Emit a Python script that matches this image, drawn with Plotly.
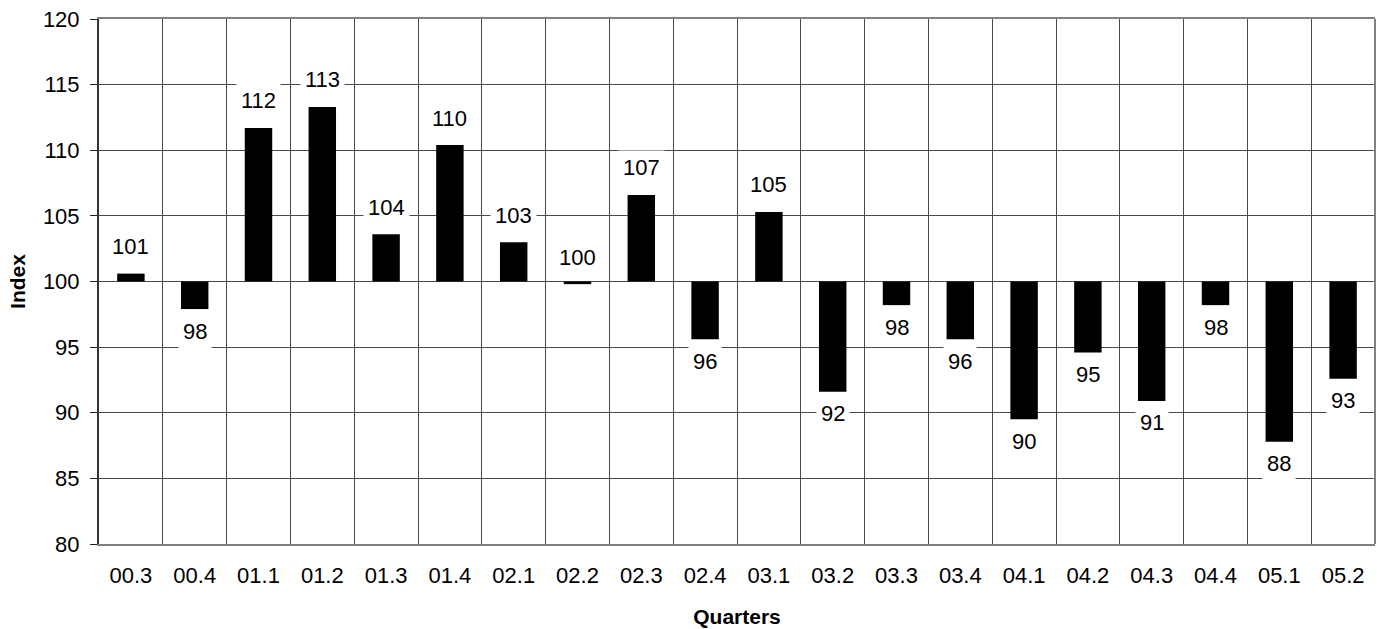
import math
import plotly.graph_objects as go

# Quarterly index values (base = 100)
quarters = ["00.3", "00.4", "01.1", "01.2", "01.3", "01.4", "02.1", "02.2", "02.3", "02.4",
            "03.1", "03.2", "03.3", "03.4", "04.1", "04.2", "04.3", "04.4", "05.1", "05.2"]
index_values = [100.6, 97.9, 111.7, 113.3, 103.6, 110.4, 103.0, 99.8, 106.6, 95.6,
                105.3, 91.6, 98.2, 95.6, 89.5, 94.6, 90.9, 98.2, 87.8, 92.6]
baseline = 100
y_ticks = [80, 85, 90, 95, 100, 105, 110, 115, 120]

FONT = "Liberation Sans, Arial, sans-serif"
GRID = "#4a4a4a"
BORDER = "#808080"

fig = go.Figure(
    go.Bar(
        x=quarters,
        y=[v - baseline for v in index_values],
        base=baseline,
        width=0.43,
        marker=dict(color="black", line=dict(width=0)),
        hoverinfo="skip",
    )
)

# value labels on white boxes, above rising bars and below falling ones
# (category position given by index so labels like "01.1" are not read as numbers)
for i, v in enumerate(index_values):
    shown = int(math.floor(v + 0.5))
    up = shown >= baseline
    fig.add_annotation(
        x=i, y=v, text=str(shown), showarrow=False,
        yanchor="middle", yshift=27 if up else -22,
        bgcolor="white", borderpad=4,
        font=dict(family=FONT, size=22, color="black"),
    )

fig.update_layout(
    width=1377, height=629,
    margin=dict(l=99, r=2, t=19, b=85),
    paper_bgcolor="white", plot_bgcolor="white",
    showlegend=False,
    font=dict(family=FONT, size=22, color="black"),
)

fig.update_xaxes(
    type="category",
    tickson="boundaries",
    showgrid=True, gridcolor=GRID, gridwidth=1,
    ticks="", ticklabelstandoff=11,
    showline=True, linecolor=BORDER, linewidth=2, mirror=True,
    tickfont=dict(family=FONT, size=22),
    title=dict(text="<b>Quarters</b>", font=dict(family=FONT, size=21), standoff=22),
    zeroline=False,
)

fig.update_yaxes(
    range=[80, 120],
    tickvals=y_ticks,
    showgrid=True, gridcolor=GRID, gridwidth=1,
    ticks="outside", ticklen=7, tickcolor="#222222", tickwidth=1,
    showline=True, linecolor="#333333", linewidth=2, mirror=False,
    ticklabelstandoff=6,
    tickfont=dict(family=FONT, size=22),
    title=dict(text="<b>Index</b>", font=dict(family=FONT, size=21), standoff=12),
    zeroline=False,
)

# right-hand frame edge in the lighter border grey
fig.add_shape(type="line", xref="paper", yref="paper", x0=1, x1=1, y0=0, y1=1,
              line=dict(color=BORDER, width=2))

fig.write_html("out.html")
